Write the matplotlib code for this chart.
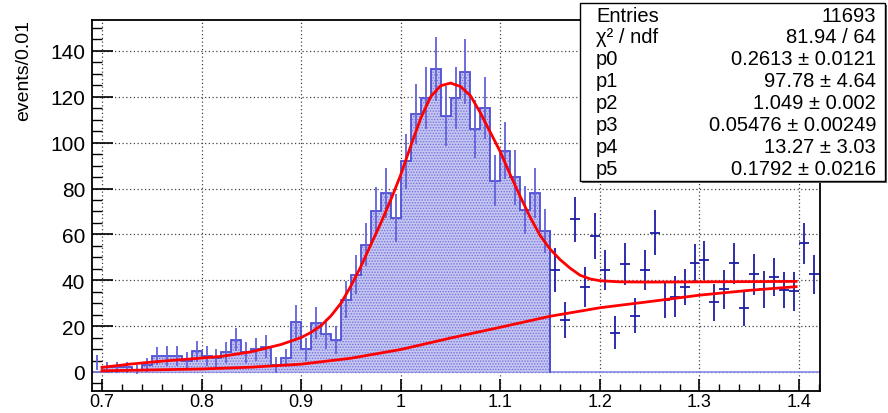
import numpy as np
import matplotlib
matplotlib.use("Agg")
import matplotlib.pyplot as plt
from matplotlib.ticker import MultipleLocator
from matplotlib.patches import Rectangle

plt.rcParams['font.family'] = ['Liberation Sans', 'DejaVu Sans']
plt.rcParams['hatch.color'] = '#7474dc'
plt.rcParams['hatch.linewidth'] = 0.7

# --- data ---
bin_width = 0.01
fit_lo = 0.70  # first filled bin
fit_counts = [2, 2, 2, 1, 3, 7, 7, 7, 5, 9,
              7, 6, 8.5, 14, 8.5, 10, 11, 3, 6, 22,
              10, 21.5, 16.5, 14, 31.5, 42.5, 55.5, 70, 78, 67,
              92, 112.5, 119.5, 132, 111.5, 119.5, 131, 106, 115, 83.5,
              96.5, 85, 70.5, 78, 61.5]
fit_errors = [2.5, 2.5, 2.5, 2, 3, 4, 4.3, 4.3, 3.5, 4.5,
              4.3, 4, 4.5, 5, 4.5, 5, 5, 3.5, 4, 7,
              5, 7, 6.5, 6, 8, 8.5, 9.5, 10.5, 11, 10.5,
              12, 13, 13.5, 14, 13, 13.5, 14, 12.5, 13.5, 11,
              12.5, 12, 10.5, 11, 9.5]

side_x = [1.155, 1.165, 1.175, 1.185, 1.195, 1.205, 1.215, 1.225, 1.235,
          1.245, 1.255, 1.265, 1.275, 1.285, 1.295, 1.305, 1.315, 1.325,
          1.335, 1.345, 1.355, 1.365, 1.375, 1.385, 1.395, 1.405, 1.415]
side_y = [44.5, 22.8, 66.5, 37.2, 59.4, 44.5, 17.2, 47, 24.6,
          44.5, 60.8, 31.2, 32.9, 37, 47.4, 48.8, 30.3, 36.1,
          47.4, 27.8, 42.6, 36, 41.3, 35.8, 35.1, 56.1, 42.6]
side_err = [9.7, 7.8, 10, 8.7, 10, 8.8, 7.1, 9.2, 7.6,
            8.8, 9.8, 7.8, 9, 8, 8.3, 8.5, 8, 8.5,
            9, 7.7, 9, 8, 8.2, 7.8, 8.3, 9, 8.6]

left_x = [0.695]
left_y = [4]
left_err = [3.3]

total_x = [0.70, 0.73, 0.76, 0.79, 0.82, 0.85, 0.88, 0.90, 0.91, 0.92,
           0.93, 0.94, 0.95, 0.96, 0.97, 0.98, 0.99, 1.00, 1.01, 1.02,
           1.03, 1.04, 1.05, 1.06, 1.07, 1.08, 1.09, 1.10, 1.11, 1.12,
           1.13, 1.14, 1.15, 1.16, 1.17, 1.18, 1.19, 1.20, 1.22, 1.25,
           1.30, 1.35, 1.397]
total_y = [2.0, 3.5, 4.7, 5.7, 6.8, 8.8, 12, 15, 17.3, 20.2,
           24.5, 30, 37.5, 46, 55.5, 65, 75, 86, 98.5, 110.5,
           120, 124.8, 126, 124.5, 120.5, 113, 104.5, 96, 86, 76.5,
           67.5, 59.5, 53.6, 49, 45.3, 42.2, 40.6, 39.8, 39.3, 39.2,
           39.3, 39.4, 39.5]

bkg_x = [0.70, 0.75, 0.80, 0.85, 0.90, 0.95, 1.00, 1.05, 1.10, 1.15,
         1.20, 1.25, 1.30, 1.35, 1.397]
bkg_y = [0.5, 0.9, 1.3, 2.1, 3.4, 6.0, 9.8, 14.8, 19.5, 24.3,
         28.0, 30.7, 33.5, 35.6, 37.2]

stats_rows = [("Entries", "11693"),
              ("χ² / ndf", "81.94 / 64"),
              ("p0", "0.2613 ± 0.0121"),
              ("p1", "97.78 ± 4.64"),
              ("p2", "1.049 ± 0.002"),
              ("p3", "0.05476 ± 0.00249"),
              ("p4", "13.27 ± 3.03"),
              ("p5", "0.1792 ± 0.0216")]

fig = plt.figure(figsize=(8.88, 4.14), dpi=100)
ax = fig.add_axes([92 / 888, 1 - 392 / 414, 728 / 888, 371 / 414])
ax.set_xlim(0.69, 1.421)
ax.set_ylim(-8.3, 153.5)

# filled histogram over the fit window
edges = fit_lo + bin_width * np.arange(len(fit_counts) + 1)
centers = edges[:-1] + bin_width / 2
ax.axhline(0, color='#8a8aee', lw=1.2, zorder=2)
ax.stairs(fit_counts, edges, fill=True, facecolor='#c6c6f2', hatch='......',
          edgecolor='#7474dc', lw=0, zorder=2)
ax.stairs(fit_counts, edges, color='#4e4ed4', lw=1.3, zorder=3)
ax.errorbar(centers, fit_counts, yerr=fit_errors, fmt='none',
            ecolor='#6262da', elinewidth=1.3, zorder=3)
ax.plot([edges[-1], edges[-1]], [0, fit_counts[-1]], color='#4e4ed4', lw=1.3, zorder=3)

# data points outside
ax.errorbar(side_x, side_y, yerr=side_err, xerr=bin_width / 2, fmt='none',
            ecolor='#1e1ea6', elinewidth=1.3, zorder=4)
ax.errorbar(left_x, left_y, yerr=left_err, fmt='none',
            ecolor='#5a5ad8', elinewidth=1.3, zorder=4)

# fit curves
ax.plot(total_x, total_y, color='red', lw=2.0, zorder=5)
ax.plot(bkg_x, bkg_y, color='red', lw=2.0, zorder=5)

# ROOT-like axes
ax.xaxis.set_major_locator(MultipleLocator(0.1))
ax.xaxis.set_minor_locator(MultipleLocator(0.02))
ax.yaxis.set_major_locator(MultipleLocator(20))
ax.yaxis.set_minor_locator(MultipleLocator(5))
ax.tick_params(axis='x', which='major', direction='in', length=9, width=1.2,
               labelsize=13, pad=1.5)
ax.tick_params(axis='x', which='minor', direction='in', length=5, width=1.0)
ax.tick_params(axis='y', which='major', direction='in', length=15, width=1.2,
               labelsize=15, pad=5)
ax.tick_params(axis='y', which='minor', direction='in', length=7, width=1.0)
ax.set_xticks([0.7, 0.8, 0.9, 1.0, 1.1, 1.2, 1.3, 1.4])
ax.set_xticklabels(['0.7', '0.8', '0.9', '1', '1.1', '1.2', '1.3', '1.4'])
ax.grid(True, which='major', color='#444444', ls=(0, (1, 2)), lw=0.9)
ax.set_axisbelow(True)
for s in ax.spines.values():
    s.set_linewidth(1.3)

fig.text(0.027, 0.952, 'events/0.01', rotation=90, ha='center', va='top', fontsize=14)

# stats box
fig.patches.append(Rectangle((582 / 888, 1 - 184 / 414), 305 / 888, 178 / 414,
                             transform=fig.transFigure, facecolor='#666666',
                             edgecolor='none', zorder=9))
fig.patches.append(Rectangle((580 / 888, 1 - 182 / 414), 305 / 888, 178 / 414,
                             transform=fig.transFigure, facecolor='white',
                             edgecolor='black', lw=1.0, zorder=10))
for i, (name, val) in enumerate(stats_rows):
    yy = 1 - (16 + 21.9 * i) / 414
    fig.text(596 / 888, yy, name, ha='left', va='center', fontsize=14.5, zorder=11)
    fig.text(876 / 888, yy, val, ha='right', va='center', fontsize=14.5, zorder=11)

fig.savefig('out.png', dpi=100)
